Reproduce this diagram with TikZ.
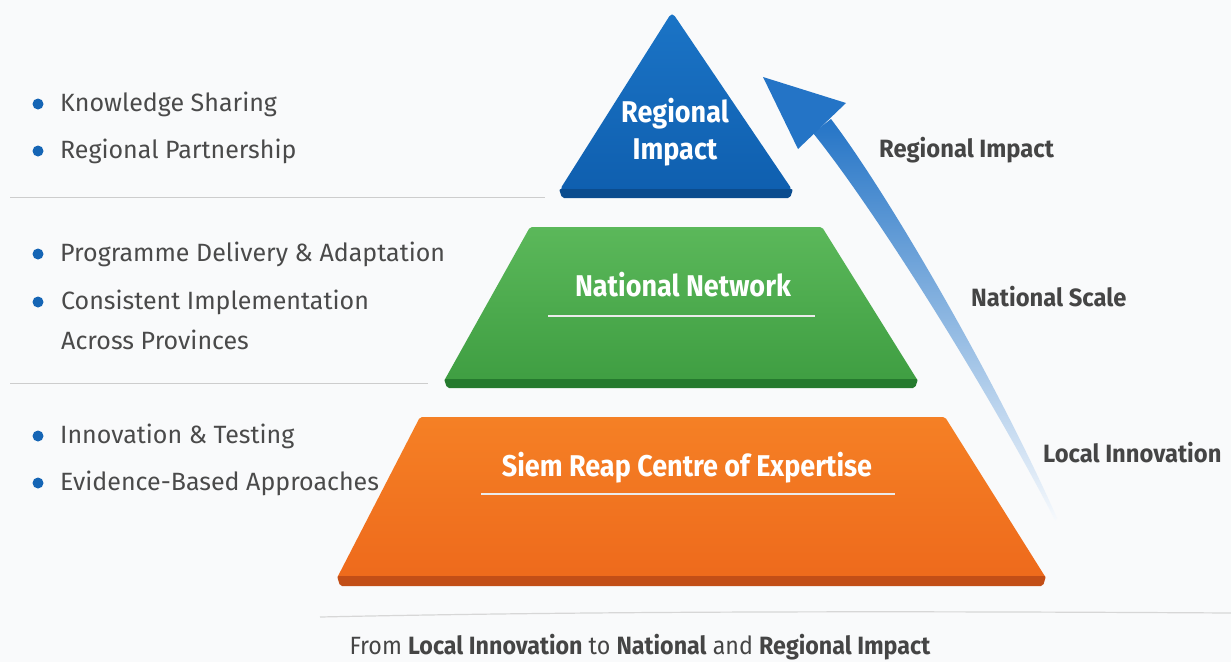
\documentclass[tikz,border=0pt]{standalone}
\usepackage{fontspec}
\setmainfont{Fira Sans}
\newfontfamily\tierfont[FakeStretch=0.9]{Fira Sans}
\newfontfamily\sidefont[FakeStretch=0.95]{Fira Sans}
\newfontfamily\capfont[FakeStretch=0.93]{Fira Sans}
\usetikzlibrary{calc}

\definecolor{bg}{HTML}{F9FAFB}
\definecolor{txtgray}{HTML}{4A4A4A}
\definecolor{lblgray}{HTML}{454545}
\definecolor{rule}{HTML}{CDCDCD}
\definecolor{dotblue}{HTML}{1565B5}
\definecolor{blueA}{HTML}{1B74C6}
\definecolor{blueB}{HTML}{0F5FAF}
\definecolor{blueEdge}{HTML}{0B4C8E}
\definecolor{greenA}{HTML}{5BB85A}
\definecolor{greenB}{HTML}{3F9E42}
\definecolor{greenEdge}{HTML}{257A2E}
\definecolor{orangeA}{HTML}{F58025}
\definecolor{orangeB}{HTML}{EE6A1C}
\definecolor{orangeEdge}{HTML}{C24E17}
\definecolor{arrowBlue}{HTML}{2474C6}

\tikzset{
  bullet/.style={anchor=west, text=txtgray, font=\fontsize{25}{30}\selectfont, inner sep=0pt},
  bulletdot/.style={circle, fill=dotblue, inner sep=0pt, minimum size=11pt},
  tierlabel/.style={text=white, font=\tierfont\bfseries\fontsize{30}{37}\selectfont, inner sep=0pt, align=center},
  sidelabel/.style={anchor=west, text=lblgray, font=\sidefont\bfseries\fontsize{25}{30}\selectfont, inner sep=0pt},
  separator/.style={draw=rule, line width=1pt},
  underline/.style={draw=white!92!black, line width=1.2pt},
}

\begin{document}
\begin{tikzpicture}[x=1pt,y=-1pt]
  % canvas
  \fill[bg] (0,0) rectangle (1231,662);
  \useasboundingbox (0,0) rectangle (1231,662);

  % separators between the tiers of bullets
  \draw[separator] (10,197) -- (545,197);
  \draw[separator] (10,383) -- (428,383);
  \draw[draw=rule!80, line width=1.2pt] (320,617) .. controls (600,611) and (900,611) .. (1231,613);

  % top tier: triangle
  \shade[top color=blueA, bottom color=blueB, rounded corners=5pt]
    (672,12) -- (793,191) -- (559,191) -- cycle;
  \fill[blueEdge, rounded corners=2pt] (559,189) -- (793,189) -- (790,198) -- (562,198) -- cycle;

  % middle tier: trapezoid
  \shade[top color=greenA, bottom color=greenB, rounded corners=2pt]
    (530,227) -- (822,227) -- (918,381) -- (444,381) -- cycle;
  \fill[greenEdge, rounded corners=2pt] (444,379) -- (918,379) -- (915,388) -- (447,388) -- cycle;

  % bottom tier: trapezoid
  \shade[top color=orangeA, bottom color=orangeB, rounded corners=2pt]
    (420,417) -- (945,417) -- (1046,578) -- (337,578) -- cycle;
  \fill[orangeEdge, rounded corners=2pt] (337,576) -- (1046,576) -- (1043,586) -- (340,586) -- cycle;

  % tier labels
  \node[tierlabel] (regional) at (675,132) {Regional\\[0pt]Impact};
  \node[tierlabel] (national) at (683,285) {National Network};
  \draw[underline] (548,316) -- (815,316);
  \node[tierlabel] (local) at (687,468) {Siem Reap Centre of Expertise};
  \draw[underline] (481,494) -- (895,494);

  % rising arrow: tapered shaft with a fading shade, and its head
  \shade[top color=arrowBlue, middle color=arrowBlue!50!white, bottom color=arrowBlue!4!white]
    (813,133) .. controls (872,206) and (985,384) .. (1055,520)
    -- (1057,518)
    .. controls (995,378) and (888,194) .. (831,119) -- cycle;
  \fill[arrowBlue] (763,77) -- (846,103) -- (798,149) -- cycle;

  % side labels
  \node[sidelabel] (sideRegional) at (879,150) {Regional Impact};
  \node[sidelabel] (sideNational) at (971,297) {National Scale};
  \node[sidelabel] (sideLocal) at (1043,453) {Local Innovation};

  % bullet lists
  \node[bulletdot] (d1) at (38,104) {};
  \node[bullet] (b1) at (60,104) {Knowledge Sharing};
  \node[bulletdot] (d2) at (38,151) {};
  \node[bullet] (b2) at (60,151) {Regional Partnership};

  \node[bulletdot] (d3) at (38,254) {};
  \node[bullet] (b3) at (60,254) {Programme Delivery \& Adaptation};
  \node[bulletdot] (d4) at (38,302) {};
  \node[bullet] (b4) at (61,302) {Consistent Implementation};
  \node[bullet] (b4b) at (61,340) {Across Provinces};

  \node[bulletdot] (d5) at (38,436) {};
  \node[bullet] (b5) at (60,436) {Innovation \& Testing};
  \node[bulletdot] (d6) at (38,483) {};
  \node[bullet] (b6) at (60,483) {Evidence-Based Approaches};

  % caption
  \node[text=lblgray, font=\capfont\fontsize{25}{30}\selectfont, inner sep=0pt] (caption) at (640,647)
    {From \textbf{Local Innovation} to \textbf{National} and \textbf{Regional Impact}};
\end{tikzpicture}
\end{document}
